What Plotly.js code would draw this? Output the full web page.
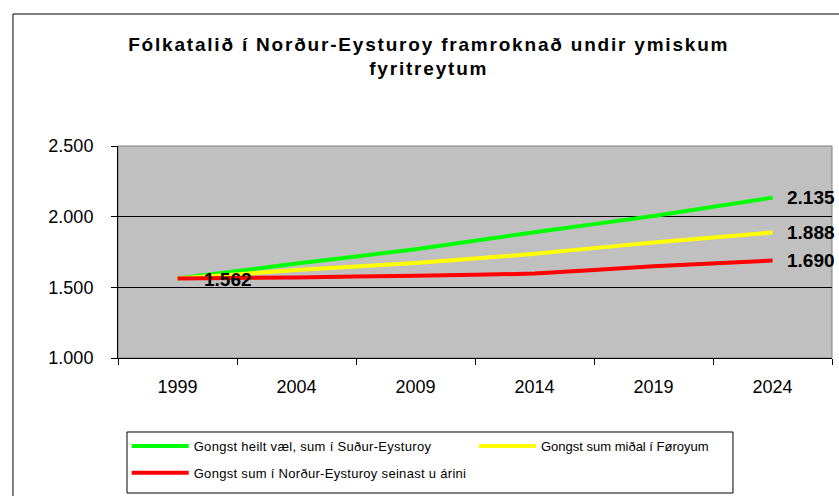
<!DOCTYPE html>
<html>
<head>
<meta charset="utf-8">
<script src="https://cdn.plot.ly/plotly-3.0.1.min.js"></script>
<style>html,body{margin:0;padding:0;background:#fff;}#chart{width:839px;height:496px;}
.gtitle{letter-spacing:1.8px;}
.legendtext{letter-spacing:0.3px;}
</style>
</head>
<body>
<div id="chart"></div>
<script>
var years = ['1999', '2004', '2009', '2014', '2019', '2024'];
var greenName = 'Gongst heilt væl, sum í Suður-Eysturoy';
var yellowName = 'Gongst sum miðal í Føroyum';
var redName = 'Gongst sum í Norður-Eysturoy seinast u árini';
var greenVals = [1562, 1668, 1770, 1890, 2005, 2135];
var yellowVals = [1562, 1622, 1673, 1737, 1818, 1888];
var redVals = [1562, 1570, 1582, 1597, 1650, 1690];
var yTicks = [1000, 1500, 2000, 2500];

function fmt(v) { return String(v).replace(/\B(?=(\d{3})+(?!\d))/g, '.'); }

var lineW = 4;
var traces = [
  {x: years, y: greenVals, name: greenName, type: 'scatter', mode: 'lines', legend: 'legend', legendgroup: 'g1', line: {color: '#00FF00', width: lineW, shape: 'spline', smoothing: 0.3}},
  {x: years, y: yellowVals, name: yellowName, type: 'scatter', mode: 'lines', legend: 'legend2', legendgroup: 'g2', line: {color: '#FFFF00', width: lineW, shape: 'spline', smoothing: 0.3}},
  {x: years, y: redVals, name: redName, type: 'scatter', mode: 'lines', legend: 'legend', legendgroup: 'g3', line: {color: '#FF0000', width: lineW, shape: 'spline', smoothing: 0.3}}
];

var last = years.length - 1;
var lblFont = {family: 'Arial, Liberation Sans, sans-serif', size: 19, color: '#000'};
var annotations = [
  {x: 0, y: redVals[0], text: '<b>' + fmt(redVals[0]) + '</b>', showarrow: false, xanchor: 'left', xshift: 24, yshift: -1, font: lblFont},
  {x: last, y: greenVals[last], text: '<b>' + fmt(greenVals[last]) + '</b>', showarrow: false, xanchor: 'left', xshift: 12, yshift: 0, font: lblFont},
  {x: last, y: yellowVals[last], text: '<b>' + fmt(yellowVals[last]) + '</b>', showarrow: false, xanchor: 'left', xshift: 12, yshift: 0, font: lblFont},
  {x: last, y: redVals[last], text: '<b>' + fmt(redVals[last]) + '</b>', showarrow: false, xanchor: 'left', xshift: 12, yshift: 0, font: lblFont}
];

var legFont = {size: 13, color: '#000', family: 'Arial, Liberation Sans, sans-serif'};

var layout = {
  width: 839, height: 496,
  margin: {l: 118, r: 7, t: 146, b: 138},
  paper_bgcolor: '#FFFFFF',
  plot_bgcolor: '#C0C0C0',
  separators: ',.',
  font: {family: 'Arial, Liberation Sans, sans-serif', color: '#000'},
  title: {
    text: '<b>Fólkatalið í Norður-Eysturoy framroknað undir ymiskum<br>fyritreytum</b>',
    font: {size: 19, color: '#000', family: 'Arial, Liberation Sans, sans-serif'},
    x: 0.511, xanchor: 'center', xref: 'container',
    y: 0.898, yanchor: 'top', yref: 'container'
  },
  xaxis: {
    type: 'category', range: [-0.5, 5.5],
    tickson: 'boundaries', ticks: 'outside', ticklen: 6, tickcolor: '#000',
    showline: true, linecolor: '#000', linewidth: 1,
    showgrid: false, zeroline: false,
    tickfont: {size: 18, color: '#000'}, ticklabelstandoff: 12
  },
  yaxis: {
    range: [1000, 2500], tickvals: yTicks, ticktext: yTicks.map(fmt),
    ticks: 'outside', ticklen: 6, tickcolor: '#000',
    showline: true, linecolor: '#000', linewidth: 1,
    showgrid: true, gridcolor: '#000', gridwidth: 1, zeroline: false,
    tickfont: {size: 18, color: '#000'}, ticklabelstandoff: 14
  },
  legend: {
    orientation: 'v', x: 0.0122, y: -0.344, xanchor: 'left', yanchor: 'top',
    xref: 'paper', yref: 'paper', itemwidth: 57,
    tracegroupgap: 7, borderwidth: 0, bgcolor: 'rgba(0,0,0,0)',
    font: legFont, traceorder: 'grouped'
  },
  legend2: {
    orientation: 'v', x: 0.4986, y: -0.344, xanchor: 'left', yanchor: 'top',
    xref: 'paper', yref: 'paper', itemwidth: 57,
    borderwidth: 0, bgcolor: 'rgba(0,0,0,0)',
    font: legFont, traceorder: 'normal'
  },
  showlegend: true,
  annotations: annotations,
  shapes: [
    {type: 'rect', xref: 'paper', yref: 'paper', x0: 0, x1: 1, y0: 0, y1: 1, line: {color: '#808080', width: 1}, layer: 'below'},
    {type: 'rect', xref: 'paper', yref: 'paper', x0: 0.0126, x1: 0.8613, y0: -0.6368, y1: -0.349, line: {color: '#000', width: 1}, fillcolor: 'rgba(0,0,0,0)'},
    {type: 'line', xref: 'paper', yref: 'paper', x0: -0.1471, x1: -0.1471, y0: -0.66, y1: 1.6226, line: {color: '#000', width: 1}},
    {type: 'line', xref: 'paper', yref: 'paper', x0: -0.1471, x1: 1.02, y0: 1.6226, y1: 1.6226, line: {color: '#000', width: 1}}
  ]
};

Plotly.newPlot('chart', traces, layout, {displayModeBar: false, staticPlot: true});
</script>
</body>
</html>
